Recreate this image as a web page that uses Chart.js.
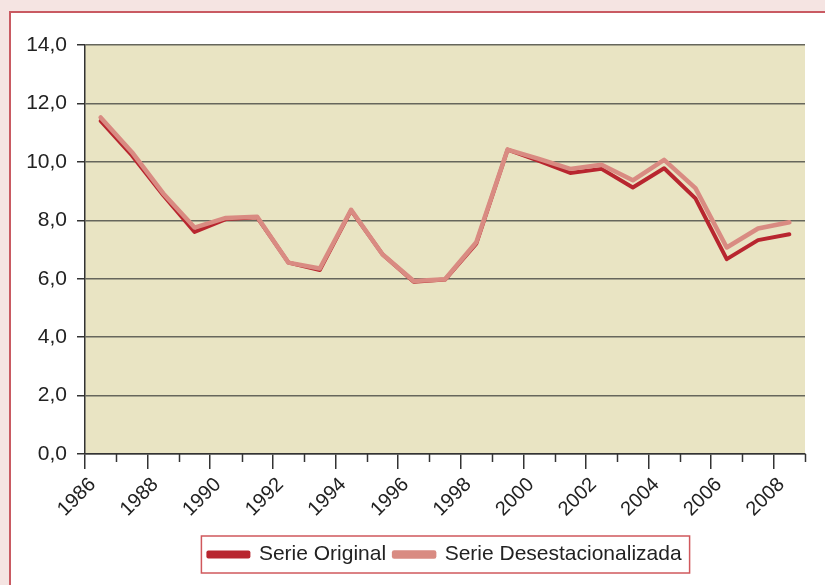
<!DOCTYPE html>
<html>
<head>
<meta charset="utf-8">
<script src="https://cdn.jsdelivr.net/npm/chart.js@4.4.1/dist/chart.umd.min.js"></script>
<style>
	body{margin:0;background:#f5e4e2;overflow:hidden;}
	#panel{position:absolute;left:9px;top:11px;width:840px;height:600px;background:#fff;border:2px solid #c95a62;}
	#wrap{position:absolute;left:0;top:0;width:825px;height:585px;}
</style>
</head>
<body>
<div id="panel"></div>
<div id="wrap"><canvas id="graphique"></canvas></div>
<script>
// annees (categories)
const annees = ["1986", "1987", "1988", "1989", "1990", "1991", "1992", "1993", "1994", "1995", "1996", "1997",
	"1998", "1999", "2000", "2001", "2002", "2003", "2004", "2005", "2006", "2007", "2008"];
// series
const serieOriginal = [11.40, 10.22, 8.86, 7.60, 8.04, 8.10, 6.55, 6.30, 8.34, 6.84, 5.90, 5.97,
	7.20, 10.42, 10.03, 9.62, 9.76, 9.12, 9.78, 8.75, 6.67, 7.32, 7.52];
const serieDesest = [11.52, 10.33, 8.92, 7.75, 8.08, 8.12, 6.55, 6.35, 8.36, 6.84, 5.92, 5.98,
	7.25, 10.42, 10.10, 9.76, 9.90, 9.37, 10.07, 9.10, 7.07, 7.72, 7.93];
const labelsSeries = ["Serie Original", "Serie Desestacionalizada"];

const police = {family: "'Liberation Sans', Arial, sans-serif", size: 21};

// fond beige de la zone de trace + petites graduations + cadre de legende
const fondPlugin = {
	id: "fond",
	beforeDraw(chart){
		const a = chart.chartArea;
		const ctx = chart.ctx;
		ctx.save();
		ctx.fillStyle = "#e9e4c3";
		ctx.fillRect(a.left, a.top, a.right - a.left, a.bottom - a.top);
		ctx.restore();
	},
	afterLayout(chart){
		//centrer la legende sous la zone de trace
		chart.legend.left = chart.chartArea.left;
		chart.legend.right = chart.chartArea.right;
	},
	afterDraw(chart){
		const ctx = chart.ctx;
		const x = chart.scales.x;
		ctx.save();
		ctx.strokeStyle = "#333";
		ctx.lineWidth = 1.5;
		for(let k = 1; k <= annees.length; k += 2){
			const px = Math.round(x.getPixelForValue(k - 0.5)) + 0.5;
			ctx.beginPath();
			ctx.moveTo(px, x.top);
			ctx.lineTo(px, x.top + 8);
			ctx.stroke();
		}
		const boites = chart.legend.legendHitBoxes;
		if (boites && boites.length){
			const gauche = boites[0].left - 7;
			const droite = boites[boites.length - 1].left + boites[boites.length - 1].width + 8;
			const milieu = boites[0].top + boites[0].height / 2;
			ctx.strokeStyle = "#d0585c";
			ctx.lineWidth = 1.5;
			ctx.strokeRect(gauche, milieu - 18.5, droite - gauche, 37);
		}
		ctx.restore();
	}
};

const data = {
	labels: annees,
	datasets: [{
		label: labelsSeries[0],
		data: serieOriginal,
		borderColor: "#b8262f",
		backgroundColor: "#b8262f",
		borderWidth: 4,
		order: 1
	}, {
		label: labelsSeries[1],
		data: serieDesest,
		borderColor: "#d98b82",
		backgroundColor: "#d98b82",
		borderWidth: 4.5,
		order: 0
	}]
};

const config = {
	type: "line",
	data: data,
	options: {
		responsive: false,
		animation: false,
		layout: {padding: {left: 0, right: 20, top: 45, bottom: 10}},
		elements: {
			point: {radius: 0},
			line: {tension: 0, borderJoinStyle: "round", borderCapStyle: "round"}
		},
		plugins: {
			tooltip: {enabled: false},
			legend: {
				position: "bottom",
				labels: {
					font: {family: police.family, size: 21},
					color: "#222",
					boxWidth: 40,
					boxHeight: 4,
					padding: 8,
					sort: (a, b) => a.datasetIndex - b.datasetIndex
				}
			}
		},
		scales: {
			x: {
				offset: true,
				grid: {
					offset: true,
					drawOnChartArea: false,
					tickLength: 15,
					lineWidth: 1.5,
					tickColor: (c) => (c.index !== undefined && c.index % 2 === 0) ? "#333" : "rgba(0,0,0,0)"
				},
				border: {color: "#333", width: 1.5},
				ticks: {
					autoSkip: false,
					maxRotation: 45,
					minRotation: 45,
					padding: 4,
					labelOffset: -8,
					color: "#222",
					font: {family: police.family, size: 20},
					callback: function(val, i){ return i % 2 === 0 ? annees[i] : ""; }
				},
				afterFit(scale){ scale.height = 82; }
			},
			y: {
				min: 0,
				max: 14,
				grid: {color: "#66665c", lineWidth: 1.5, tickLength: 8, tickColor: "#333"},
				border: {color: "#333", width: 1.5},
				ticks: {
					stepSize: 2,
					padding: 10,
					color: "#222",
					font: police,
					callback: (v) => v.toFixed(1).replace(".", ",")
				},
				afterFit(scale){ scale.width = 85; }
			}
		}
	},
	plugins: [fondPlugin]
};

const canvas = document.querySelector("#graphique");
canvas.width = 825;
canvas.height = 585;
new Chart(canvas, config);
</script>
</body>
</html>
